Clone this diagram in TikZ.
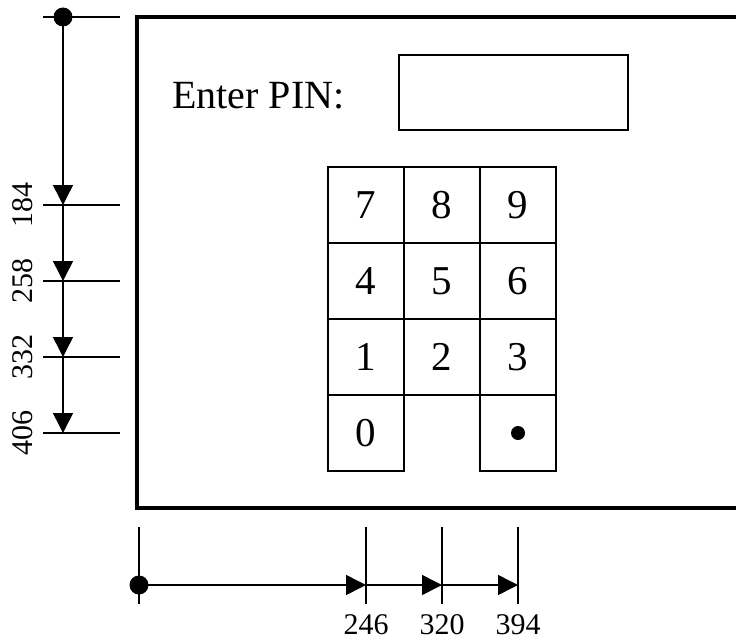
\documentclass[tikz,border=0pt]{standalone}
\usepackage{fontspec}
\setmainfont{Liberation Serif}
\usetikzlibrary{arrows.meta}
\tikzset{
  frame/.style={line width=4pt},
  keybox/.style={draw, line width=1.6pt, minimum width=76pt, minimum height=76pt,
                 inner sep=0pt, font=\fontsize{41}{41}\selectfont},
  dimline/.style={line width=1.5pt},
  dimarrow/.style={line width=1.5pt, -{Triangle[length=20pt,width=20pt]}},
  dimlabel/.style={font=\fontsize{30}{30}\selectfont, inner sep=0pt},
  origin/.style={circle, fill=black, minimum size=19pt, inner sep=0pt},
}
\begin{document}
\begin{tikzpicture}[x=1pt,y=-1pt]
\useasboundingbox (0,0) rectangle (736,642);

% screen outline (runs off to the right)
\draw[frame] (745,17) -| (137,508) -- (745,508);

% prompt and entry field
\node[anchor=base west, inner sep=0pt, font=\fontsize{40}{40}\selectfont] (prompt) at (172,108) {Enter PIN:};
\node[draw, line width=1.6pt, minimum width=229pt, minimum height=75pt, inner sep=0pt] (field) at (513.5,92.5) {};

% keypad
\node[keybox] (k7) at (366,205) {7};
\node[keybox] (k8) at (442,205) {8};
\node[keybox] (k9) at (518,205) {9};
\node[keybox] (k4) at (366,281) {4};
\node[keybox] (k5) at (442,281) {5};
\node[keybox] (k6) at (518,281) {6};
\node[keybox] (k1) at (366,357) {1};
\node[keybox] (k2) at (442,357) {2};
\node[keybox] (k3) at (518,357) {3};
\node[keybox] (k0) at (366,433) {0};
\node[keybox] (kdot) at (518,433) {};
\fill (kdot.center) circle (7pt);

% vertical dimensioning
\node[origin] (vo) at (63,17) {};
\coordinate (v1) at (63,205);
\coordinate (v2) at (63,281);
\coordinate (v3) at (63,357);
\coordinate (v4) at (63,433);
\draw[dimline] (43,17) -- (120,17);
\foreach \y in {205,281,357,433} \draw[dimline] (43,\y) -- (120,\y);
\draw[dimarrow] (vo.center) -- (v1);
\draw[dimarrow] (v1) -- (v2);
\draw[dimarrow] (v2) -- (v3);
\draw[dimarrow] (v3) -- (v4);
\node[dimlabel, rotate=90] (l184) at (23,205) {184};
\node[dimlabel, rotate=90] (l258) at (23,281) {258};
\node[dimlabel, rotate=90] (l332) at (23,357) {332};
\node[dimlabel, rotate=90] (l406) at (23,433) {406};

% horizontal dimensioning
\node[origin] (ho) at (139,585) {};
\coordinate (h1) at (366,585);
\coordinate (h2) at (442,585);
\coordinate (h3) at (518,585);
\foreach \x in {139,366,442,518} \draw[dimline] (\x,527) -- (\x,604);
\draw[dimarrow] (ho.center) -- (h1);
\draw[dimarrow] (h1) -- (h2);
\draw[dimarrow] (h2) -- (h3);
\node[dimlabel] (l246) at (366,625) {246};
\node[dimlabel] (l320) at (442,625) {320};
\node[dimlabel] (l394) at (518,625) {394};
\end{tikzpicture}
\end{document}
